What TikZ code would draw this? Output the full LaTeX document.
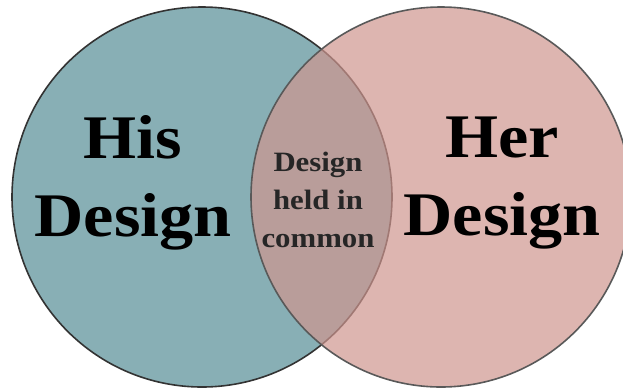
\documentclass[tikz,border=0pt]{standalone}
\usepackage{fontspec}
\setmainfont{Liberation Serif}
\newfontfamily\vennfont[FakeStretch=1.1]{Liberation Serif}
\usepackage{tikz}
\usetikzlibrary{positioning}
\definecolor{hisblue}{RGB}{136,175,181}
\definecolor{herpink}{RGB}{207,150,143}

\begin{document}
\begin{tikzpicture}[x=1pt,y=1pt,
	his set/.style={circle, draw=black!80, line width=1.6pt, fill=hisblue, minimum size=380pt, inner sep=0pt},
	her set/.style={circle, draw=black!65, line width=1.6pt, fill=herpink, fill opacity=.7, minimum size=380pt, inner sep=0pt},
	big label/.style={font=\vennfont\bfseries\fontsize{62}{78}\selectfont, align=center, text=black},
	small label/.style={font=\vennfont\bfseries\fontsize{28}{38}\selectfont, align=center, text=black!85}]
	\useasboundingbox (0,0) rectangle (623,-389);
	\clip (0,0) rectangle (623,-389);
	
	\node[his set] (his) at (202,-197) {};
	\node[her set] (her) at (441,-197) {};
	
	\node[big label] (hislabel) at (133,-183) {His\\Design};
	\node[big label] (herlabel) at (502,-183) {Her\\Design};
	\node[small label] (common) at (318,-200) {Design\\held in\\common};
	
\end{tikzpicture}
\end{document}
